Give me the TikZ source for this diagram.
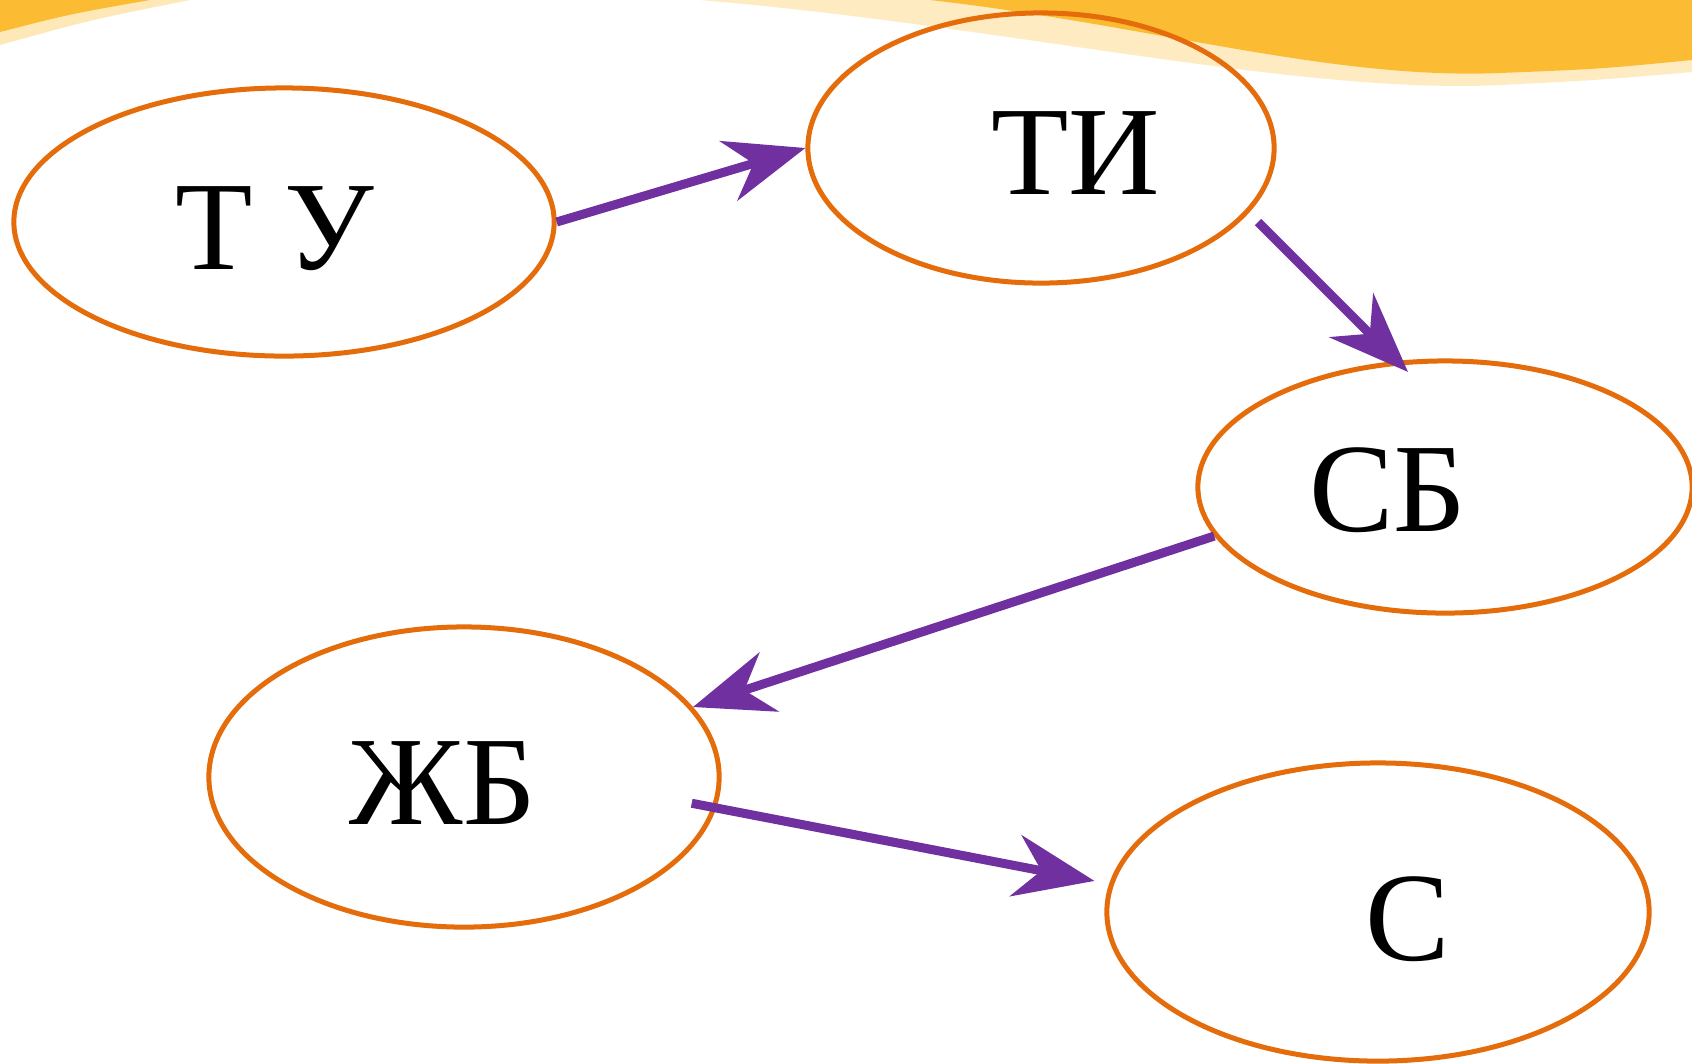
\documentclass[tikz,border=0pt]{standalone}
\usepackage{fontspec}
\setmainfont{Liberation Serif}
\usetikzlibrary{arrows.meta}
\usetikzlibrary{shapes.geometric}
\usetikzlibrary{positioning}
\definecolor{ovalline}{HTML}{E46C0A}
\definecolor{arrowviolet}{HTML}{7030A0}
\definecolor{banner}{HTML}{FBBC34}
\tikzset{oval/.style = {draw = ovalline, ellipse, line width = 0.05cm, inner sep = 0}}
\tikzset{lbl/.style = {anchor = base, inner sep = 0, font = \fontsize{36}{40}\selectfont}}
\tikzset{arr/.style = {draw = arrowviolet, line width = 0.09cm,
    -{Stealth[length = 0.8cm, width = 0.62cm, inset = 0.26cm]}}}

\begin{document}
\begin{tikzpicture}[x = 0.01cm, y = -0.01cm]
    \useasboundingbox (0, 0) rectangle (1692, 1063);

    % top banner
    \fill [banner, opacity = 0.35] (0, 0) -- (190, 0) .. controls (90, 20) .. (0, 45) -- cycle;
    \fill [banner] (0, 0) -- (150, 0) .. controls (70, 14) .. (0, 32) -- cycle;
    \fill [banner, opacity = 0.3] (700, 0) .. controls (1000, 25) and (1300, 95) .. (1500, 85)
        .. controls (1600, 80) .. (1692, 72) -- (1692, 0) -- cycle;
    \fill [banner] (930, 0) .. controls (1150, 25) and (1330, 80) .. (1500, 73)
        .. controls (1600, 69) .. (1692, 60) -- (1692, 0) -- cycle;

    \node [oval, minimum width = 5.40cm, minimum height = 2.68cm] (tu) at (284, 222) {};
    \node [oval, minimum width = 4.66cm, minimum height = 2.70cm] (ti) at (1041, 148) {};
    \node [oval, minimum width = 4.94cm, minimum height = 2.52cm] (sb) at (1445, 487) {};
    \node [oval, minimum width = 5.10cm, minimum height = 3.00cm] (zb) at (464, 777) {};
    \node [oval, minimum width = 5.42cm, minimum height = 2.98cm] (c) at (1378, 912) {};

    \node [lbl] (tutext) at (275, 269) {Т У};
    \node [lbl] (titext) at (1076, 194) {ТИ};
    \node [lbl] (sbtext) at (1388, 531) {СБ};
    \node [lbl] (zbtext) at (443, 824) {ЖБ};
    \node [lbl] (ctext) at (1408, 960) {С};

    \draw [arr] (tu.east) -- (ti.west);
    \draw [arr] ([xshift = 2.17cm, yshift = -0.74cm] ti.center) -- ([xshift = -0.37cm, yshift = 1.15cm] sb.center);
    \draw [arr] (sb.192) -- (zb.17);
    \draw [arr, shorten <= -0.25cm, shorten >= 0.15cm] (zb.-7) -- (c.174);
\end{tikzpicture}
\end{document}
